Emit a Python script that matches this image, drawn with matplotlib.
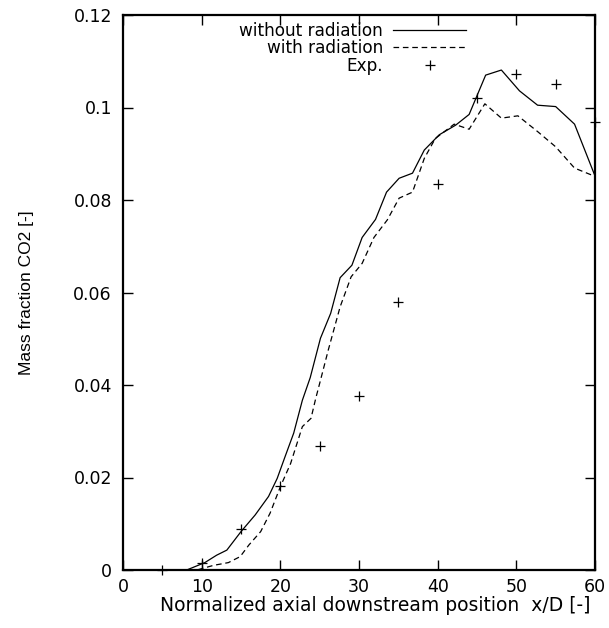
import matplotlib
matplotlib.use("Agg")
import matplotlib.pyplot as plt

# courbe sans rayonnement
x_norad = [0, 8.1, 10.4, 11.9, 13.2, 15.0, 16.8, 18.5, 19.6, 20.6, 21.7, 22.8, 23.8,
           25.1, 26.4, 27.6, 29.1, 30.4, 32.1, 33.5, 35.1, 36.8, 38.3, 40.2, 42.3,
           44.0, 46.1, 48.1, 50.4, 52.7, 55.0, 57.4, 60]
y_norad = [0, 0, 0.0016, 0.0032, 0.0043, 0.0083, 0.0119, 0.0159, 0.0198, 0.0245,
           0.0296, 0.0367, 0.0416, 0.0501, 0.0555, 0.0632, 0.0659, 0.0719, 0.0758,
           0.0817, 0.0847, 0.0858, 0.0908, 0.0941, 0.0962, 0.0985, 0.1070, 0.1081,
           0.1036, 0.1005, 0.1002, 0.0964, 0.0852]

# courbe avec rayonnement
x_rad = [0, 9.4, 11.5, 13.4, 14.9, 16.0, 17.5, 18.7, 20.0, 21.3, 22.8, 23.9, 24.5,
         25.1, 26.1, 27.6, 29.0, 30.4, 31.9, 33.6, 35.1, 36.8, 38.3, 39.7, 42.1,
         44.0, 46.0, 48.1, 50.2, 52.7, 55.0, 57.4, 60]
y_rad = [0, 0, 0.0010, 0.0016, 0.0029, 0.0054, 0.0083, 0.0123, 0.0180, 0.0230,
         0.0310, 0.0328, 0.0371, 0.0410, 0.0476, 0.0569, 0.0634, 0.0663, 0.0719,
         0.0757, 0.0804, 0.0817, 0.0890, 0.0933, 0.0964, 0.0953, 0.1008, 0.0977,
         0.0982, 0.0948, 0.0915, 0.0869, 0.0851]

# mesures
x_exp = [5, 10, 15, 20, 25, 30, 35, 40, 45, 50, 55, 60]
y_exp = [0.0, 0.0015, 0.0088, 0.0182, 0.0269, 0.0376, 0.0580, 0.0834, 0.1021,
         0.1072, 0.1051, 0.0968]

xticks = [0, 10, 20, 30, 40, 50, 60]
yticks = [0, 0.02, 0.04, 0.06, 0.08, 0.1, 0.12]
ytick_labels = ["0", "0.02", "0.04", "0.06", "0.08", "0.1", "0.12"]

plt.rcParams['font.family'] = ['DejaVu Sans']
fs = 12.5

fig = plt.figure(figsize=(6.09, 6.28), dpi=100)
ax = fig.add_axes([123 / 609, 1 - 570 / 628, 472 / 609, 555 / 628])

ax.plot(x_norad, y_norad, color='black', lw=0.9, label='without radiation')
ax.plot(x_rad, y_rad, color='black', lw=0.9, ls=(0, (4.5, 3)), label='with radiation')
ax.plot(x_exp, y_exp, ls='none', marker='+', ms=7, mew=0.9, color='black',
        label='Exp.', clip_on=False)

ax.set_xlim(0, 60)
ax.set_ylim(0, 0.12)
ax.set_xticks(xticks)
ax.set_yticks(yticks)
ax.set_yticklabels(ytick_labels)
ax.tick_params(direction='in', length=7, width=1, top=True, right=True, labelsize=fs)
ax.tick_params(axis='y', pad=8)
ax.tick_params(axis='x', pad=6)
for s in ax.spines.values():
    s.set_linewidth(1.6)

ax.set_xlabel('Normalized axial downstream position  x/D [-]', fontsize=13.5)
ax.xaxis.set_label_coords(0.534, -0.047)
ax.set_ylabel('Mass fraction CO2 [-]', fontsize=12.5,
              family=['Liberation Sans Narrow', 'Liberation Sans'])
ax.yaxis.set_label_coords(-0.189, 0.5)

ax.legend(loc='upper right', bbox_to_anchor=((466 - 123) / 472, (570 - 22) / 555),
          frameon=False, markerfirst=False, fontsize=12.2, borderpad=0,
          borderaxespad=0, handlelength=4.3, handletextpad=0.6,
          labelspacing=-0.04, numpoints=1)

fig.savefig('out.png', dpi=100)
